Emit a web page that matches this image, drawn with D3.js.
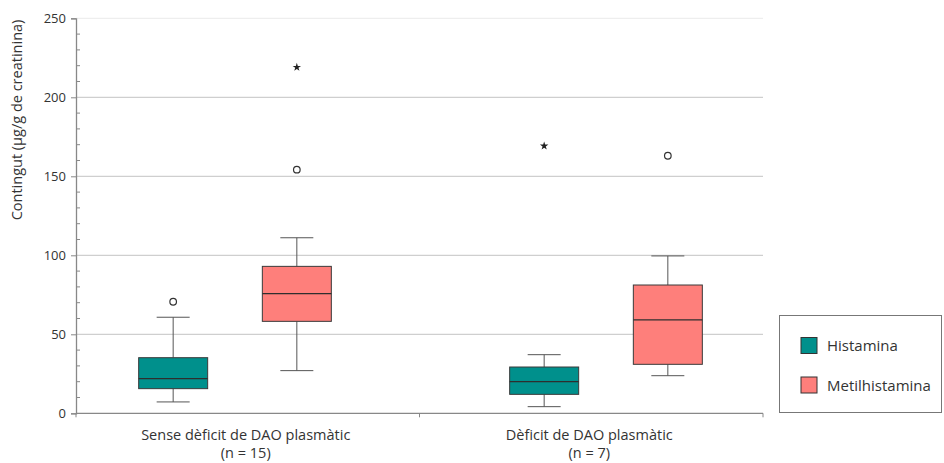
<!DOCTYPE html>
<html>
<head>
<meta charset="utf-8">
<script src="https://cdn.jsdelivr.net/npm/d3@7"></script>
<style>
  html, body { margin: 0; padding: 0; background: #fff; }
  svg { display: block; font-family: "Open Sans", Lato, sans-serif; }
</style>
</head>
<body>
<svg id="chart" width="944" height="463"></svg>
<script>
// Groups (x categories) with their two-line labels
const groups = ["Sense dèficit de DAO plasmàtic", "Dèficit de DAO plasmàtic"];
const groupSizes = ["(n = 15)", "(n = 7)"];
const series = ["Histamina", "Metilhistamina"];
const seriesColors = ["#00908c", "#fe7f7b"];

// Box statistics per group, one array per series: [lowerWhisker, q1, median, q3, upperWhisker]
const histaminaStats = [[7.2, 15.6, 21.9, 35.2, 60.8], [4.2, 12.0, 20.0, 29.3, 37.1]];
const metilStats = [[27.0, 58.2, 75.7, 93.0, 111.1], [23.8, 31.0, 59.1, 81.2, 99.6]];

// Outliers (circles) and extreme values (stars)
const histaminaOutliers = [[70.6], []];
const histaminaExtremes = [[], [169.2]];
const metilOutliers = [[154.2], [163.0]];
const metilExtremes = [[219.0], []];

const yTicks = [0, 50, 100, 150, 200, 250];
const yTitle = "Contingut (µg/g de creatinina)";

const svg = d3.select("#chart");
const plotLeft = 76, plotRight = 763, plotTop = 18.3, plotBottom = 413.3;

const y = d3.scaleLinear().domain([0, 250]).range([plotBottom, plotTop]);
const xAxisScale = d3.scaleBand().domain(groups).range([plotLeft, plotRight]);
// box placement: group bands and series points within each group
const xGroup = d3.scaleBand().domain(groups).range([49.5, 791.5]);
const xSeries = d3.scalePoint().domain(series).range([0, xGroup.bandwidth()]).padding(1);

const boxW = 69, capW = 33;

// gridlines
svg.append("g").selectAll("line").data(yTicks.filter(d => d > 0)).join("line")
  .attr("x1", plotLeft).attr("x2", plotRight)
  .attr("y1", d => y(d)).attr("y2", d => y(d))
  .attr("stroke", d => d === 250 ? "#eeeeee" : "#cfcfcf").attr("stroke-width", 1.2);

// y axis with major ticks outside and minor ticks inside
const yAxis = svg.append("g").attr("transform", `translate(${plotLeft},0)`)
  .call(d3.axisLeft(y).tickValues(yTicks).tickSize(5).tickPadding(5));
yAxis.select(".domain").attr("stroke", "#888").attr("stroke-width", 1.3);
yAxis.selectAll(".tick line").attr("stroke", "#888");
yAxis.selectAll("text").attr("font-size", 13).attr("fill", "#333")
  .attr("font-family", "'Open Sans', sans-serif");
svg.append("g").selectAll("line").data(d3.range(10, 250, 10).filter(d => d % 50 !== 0)).join("line")
  .attr("x1", plotLeft).attr("x2", plotLeft + 4)
  .attr("y1", d => y(d)).attr("y2", d => y(d))
  .attr("stroke", "#888");

// y axis title
svg.append("text")
  .attr("transform", "translate(22,120) rotate(-90)")
  .attr("text-anchor", "middle")
  .attr("font-size", 14.5).attr("fill", "#333")
  .text(yTitle);

// x axis
const xAxis = svg.append("g").attr("transform", `translate(0,${plotBottom})`);
xAxis.append("line").attr("x1", plotLeft).attr("x2", plotRight).attr("stroke", "#888").attr("stroke-width", 1.3);
xAxis.selectAll("line.tk").data([plotLeft, xAxisScale(groups[1]), plotRight]).join("line")
  .attr("class", "tk").attr("x1", d => d).attr("x2", d => d).attr("y1", 0).attr("y2", 4)
  .attr("stroke", "#888");
// category name and group size as two separate lines
const labelX = d => xAxisScale(d) + xAxisScale.bandwidth() / 2 - 2;
xAxis.selectAll("text.cat").data(groups).join("text")
  .attr("class", "cat").attr("text-anchor", "middle")
  .attr("font-size", 14.5).attr("fill", "#333")
  .attr("x", labelX).attr("y", 27).text(d => d);
xAxis.selectAll("text.size").data(groups).join("text")
  .attr("class", "size").attr("text-anchor", "middle")
  .attr("font-size", 14.5).attr("fill", "#333")
  .attr("x", labelX).attr("y", 45).text((d, i) => groupSizes[i]);

// boxes
const seriesData = [
  { name: series[0], color: seriesColors[0], stats: histaminaStats, out: histaminaOutliers, ext: histaminaExtremes },
  { name: series[1], color: seriesColors[1], stats: metilStats, out: metilOutliers, ext: metilExtremes }
];
const star = d3.symbol().type(d3.symbolStar).size(22);

seriesData.forEach(s => {
  groups.forEach((g, gi) => {
    const [lo, q1, med, q3, hi] = s.stats[gi];
    const cx = xGroup(g) + xSeries(s.name);
    const gg = svg.append("g");
    // whiskers
    gg.append("line").attr("x1", cx).attr("x2", cx).attr("y1", y(hi)).attr("y2", y(q3)).attr("stroke", "#555");
    gg.append("line").attr("x1", cx).attr("x2", cx).attr("y1", y(q1)).attr("y2", y(lo)).attr("stroke", "#555");
    gg.append("line").attr("x1", cx - capW / 2).attr("x2", cx + capW / 2).attr("y1", y(hi)).attr("y2", y(hi)).attr("stroke", "#555");
    gg.append("line").attr("x1", cx - capW / 2).attr("x2", cx + capW / 2).attr("y1", y(lo)).attr("y2", y(lo)).attr("stroke", "#555");
    // box
    gg.append("rect").attr("x", cx - boxW / 2).attr("width", boxW)
      .attr("y", y(q3)).attr("height", y(q1) - y(q3))
      .attr("fill", s.color).attr("stroke", "#3a3a3a").attr("stroke-width", 1);
    gg.append("line").attr("x1", cx - boxW / 2).attr("x2", cx + boxW / 2)
      .attr("y1", y(med)).attr("y2", y(med)).attr("stroke", "#2e2e2e").attr("stroke-width", 1.3);
    // outliers
    s.out[gi].forEach(v => {
      gg.append("circle").attr("cx", cx).attr("cy", y(v)).attr("r", 3.3)
        .attr("fill", "#fff").attr("stroke", "#333").attr("stroke-width", 1.2);
    });
    s.ext[gi].forEach(v => {
      gg.append("path").attr("d", star).attr("transform", `translate(${cx},${y(v)})`).attr("fill", "#222");
    });
  });
});

// legend
const lg = svg.append("g").attr("transform", "translate(779,315)");
lg.append("rect").attr("x", 0.5).attr("y", 0.5).attr("width", 162).attr("height", 97)
  .attr("fill", "#fff").attr("stroke", "#777");
seriesData.forEach((s, i) => {
  const row = lg.append("g").attr("transform", `translate(22,${22.5 + i * 39.5})`);
  row.append("rect").attr("width", 16).attr("height", 16).attr("fill", s.color).attr("stroke", "#333");
  row.append("text").attr("x", 26).attr("y", 13.5).attr("font-size", 15).attr("fill", "#333").text(s.name);
});
</script>
</body>
</html>
